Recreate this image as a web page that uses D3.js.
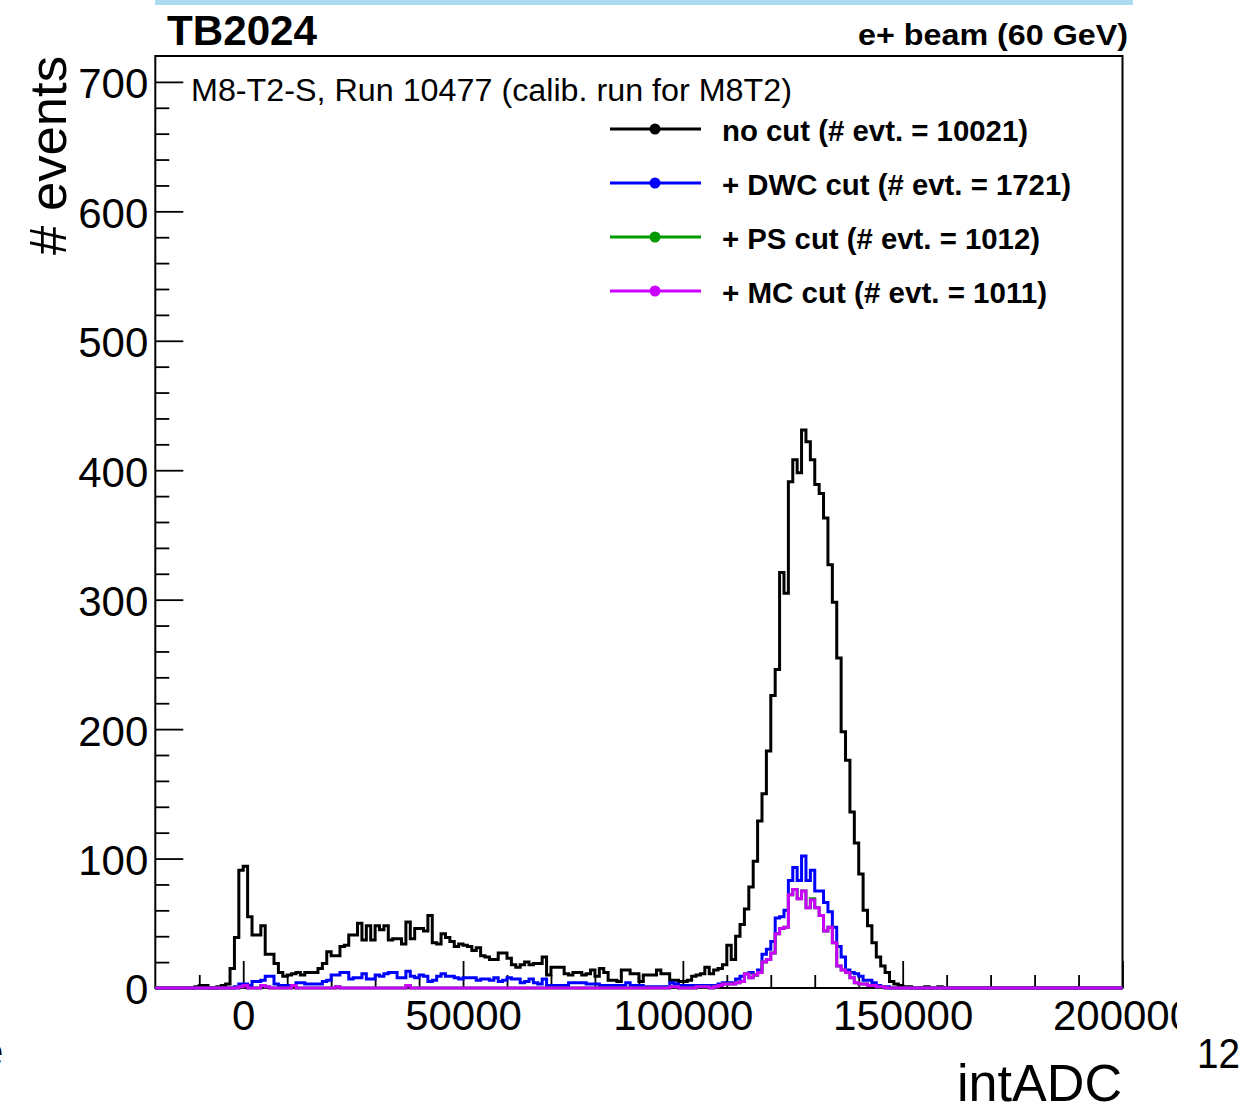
<!DOCTYPE html>
<html><head><meta charset="utf-8">
<script src="https://cdn.jsdelivr.net/npm/d3@7"></script>
<style>html,body{margin:0;padding:0;background:#fff;} svg{display:block;}</style>
</head><body>
<svg id="c" width="1255" height="1111"></svg>
<script>
// ---- histogram binning (intADC), 220 bins of 1000 from -20000 to 200000 ----
const binLow = -20000;
const binWidth = 1000;

// ---- series values (counts per bin) ----
const noCut = [
  0,0,0,0,0,0,0,0,0,1,
  2,2,0,0,1,2,3,15,39,91,
  94,55,41,41,48,26,26,19,12,9,
  10,11,12,10,12,12,12,15,19,28,
  25,25,32,33,41,41,50,37,48,37,
  48,45,48,37,38,38,34,51,38,46,
  46,44,56,35,34,42,39,36,32,34,
  33,32,29,31,25,24,22,22,27,27,
  23,18,16,18,20,18,19,19,24,10,
  16,16,16,11,10,12,12,10,11,14,
  9,15,12,6,6,5,14,14,11,11,
  5,10,10,10,14,11,11,6,6,5,
  5,6,9,10,11,16,11,14,15,18,
  33,22,40,49,61,78,98,129,150,183,
  226,246,321,305,391,408,398,431,422,408,
  389,382,363,327,298,255,198,176,136,112,
  88,60,48,35,24,17,12,5,3,2,
  1,1,0,0,0,1,0,0,1,0,
  0,0,0,0,0,0,0,0,0,0,
  0,0,0,0,0,0,0,0,0,0,
  0,0,0,0,0,0,0,0,0,0,
  0,0,0,0,0,0,0,0,0,0
];
const dwcCut = [
  0,0,0,0,0,0,0,0,0,0,
  0,0,0,0,0,0,0,0,1,3,
  3,2,5,5,6,9,9,3,2,2,
  2,2,4,4,3,3,3,3,5,6,
  10,10,12,12,7,8,8,11,7,7,
  10,9,11,12,12,8,8,13,9,8,
  10,9,5,6,9,11,9,9,8,7,
  8,8,8,6,7,7,6,8,5,6,
  8,7,7,4,5,7,4,3,7,2,
  2,2,2,2,4,4,4,4,3,3,
  3,2,2,2,2,2,2,4,2,2,
  2,1,1,1,1,1,1,4,3,2,
  2,2,2,2,2,2,2,2,3,4,
  4,4,7,9,11,12,10,14,26,30,
  36,54,55,60,83,93,83,102,83,91,
  75,75,66,59,47,32,24,14,12,11,
  9,6,6,4,2,1,1,0,0,0,
  0,0,0,0,0,0,0,0,0,0,
  0,0,0,0,0,0,0,0,0,0,
  0,0,0,0,0,0,0,0,0,0,
  0,0,0,0,0,0,0,0,0,0,
  0,0,0,0,0,0,0,0,0,0
];
const psCut = [
  0,0,0,0,0,0,0,0,0,0,
  0,0,0,0,0,0,0,0,0,1,
  2,0,0,0,2,1,0,0,0,0,
  0,2,0,0,0,0,0,0,0,0,
  0,1,0,0,0,0,0,0,0,0,
  0,0,0,0,0,0,0,2,0,0,
  0,0,0,0,0,0,0,0,0,0,
  0,0,0,0,0,0,0,0,0,0,
  0,0,0,0,0,0,0,0,0,0,
  0,0,0,0,0,0,0,0,0,0,
  0,0,0,0,0,0,0,0,0,0,
  0,0,0,0,0,0,0,1,1,0,
  0,0,0,1,1,1,0,1,2,3,
  3,3,4,5,11,8,10,12,20,22,
  27,42,46,47,72,76,69,75,62,69,
  62,56,44,47,35,17,14,12,8,4,
  3,3,2,2,1,1,0,0,0,0,
  0,0,0,0,0,0,0,0,0,0,
  0,0,0,0,0,0,0,0,0,0,
  0,0,0,0,0,0,0,0,0,0,
  0,0,0,0,0,0,0,0,0,0,
  0,0,0,0,0,0,0,0,0,0
];
const mcCut = [
  0,0,0,0,0,0,0,0,0,0,
  0,0,0,0,0,0,0,0,0,1,
  2,0,0,0,2,1,0,0,0,0,
  0,2,0,0,0,0,0,0,0,0,
  0,1,0,0,0,0,0,0,0,0,
  0,0,0,0,0,0,0,2,0,0,
  0,0,0,0,0,0,0,0,0,0,
  0,0,0,0,0,0,0,0,0,0,
  0,0,0,0,0,0,0,0,0,0,
  0,0,0,0,0,0,0,0,0,0,
  0,0,0,0,0,0,0,0,0,0,
  0,0,0,0,0,0,0,1,1,0,
  0,0,0,1,1,1,0,1,2,3,
  3,3,4,5,11,8,10,12,20,22,
  27,42,46,47,72,76,69,75,62,68,
  62,56,44,47,35,17,14,12,8,4,
  3,3,2,2,1,1,0,0,0,0,
  0,0,0,0,0,0,0,0,0,0,
  0,0,0,0,0,0,0,0,0,0,
  0,0,0,0,0,0,0,0,0,0,
  0,0,0,0,0,0,0,0,0,0,
  0,0,0,0,0,0,0,0,0,0
];

const seriesNames = ["no cut (# evt. = 10021)", "+ DWC cut (# evt. = 1721)", "+ PS cut (# evt. = 1012)", "+ MC cut (# evt. = 1011)"];
const seriesColors = ["#000000", "#0000ff", "#009a00", "#cc00ff"];
const seriesData = [noCut, dwcCut, psCut, mcCut];

const xTickValues = [0, 50000, 100000, 150000, 200000];
const yTickValues = [0, 100, 200, 300, 400, 500, 600, 700];
const xDomain = [-20000, 200000];
const yDomain = [0, 720];

const titleLeft = "TB2024";
const titleRight = "e+ beam (60 GeV)";
const runLabel = "M8-T2-S, Run 10477 (calib. run for M8T2)";
const xTitle = "intADC";
const yTitle = "# events";
const pageNumber = "12";

// ---- drawing ----
const FONT = "'Liberation Sans', Arial, Helvetica, sans-serif";
const svg = d3.select("#c");
const L = 155.3, R = 1122.5, T = 56, B = 988;
const x = d3.scaleLinear().domain(xDomain).range([L, R]);
const y = d3.scaleLinear().domain(yDomain).range([B, T]);

// top light-blue band
svg.append("rect").attr("x", 155).attr("y", 0).attr("width", 978).attr("height", 5).attr("fill", "#aadcf1");

const defs = svg.append("defs");
defs.append("clipPath").attr("id", "plotclip").append("rect")
  .attr("x", L - 1).attr("y", T).attr("width", R - L + 2).attr("height", B - T + 4);
defs.append("clipPath").attr("id", "padclip").append("rect")
  .attr("x", 0).attr("y", 0).attr("width", 1177).attr("height", 1111);

// frame
svg.append("rect").attr("x", L).attr("y", T).attr("width", R - L).attr("height", B - T)
  .attr("fill", "none").attr("stroke", "#000").attr("stroke-width", 2);

// axes
function styleAxis(g) {
  g.select(".domain").remove();
  g.selectAll(".tick line").attr("stroke", "#000").attr("stroke-width", 1.8);
  g.selectAll(".tick text").attr("font-family", FONT).attr("font-size", 42).attr("fill", "#000");
}
const xMinor = d3.range(-10000, 200000, 10000).filter(v => v % 50000 !== 0);
const yMinor = d3.range(20, 720, 20).filter(v => v % 100 !== 0);

const gxAll = svg.append("g").attr("clip-path", "url(#padclip)");
gxAll.append("g").attr("transform", `translate(0,${B})`)
  .call(d3.axisBottom(x).tickValues(xMinor).tickSizeInner(-13).tickSizeOuter(0).tickFormat(""))
  .call(styleAxis);
gxAll.append("g").attr("transform", `translate(0,${B})`)
  .call(d3.axisBottom(x).tickValues(xTickValues).tickSizeInner(-27).tickSizeOuter(0).tickPadding(12).tickFormat(d3.format("d")))
  .call(styleAxis);

svg.append("g").attr("transform", `translate(${L},0)`)
  .call(d3.axisLeft(y).tickValues(yMinor).tickSizeInner(-14).tickSizeOuter(0).tickFormat(""))
  .call(styleAxis);
svg.append("g").attr("transform", `translate(${L},0)`)
  .call(d3.axisLeft(y).tickValues(yTickValues).tickSizeInner(-28).tickSizeOuter(0).tickPadding(7).tickFormat(d3.format("d")))
  .call(styleAxis)
  .selectAll(".tick text").attr("dy", "0.38em");

// histograms
const line = d3.line().x(d => x(d[0])).y(d => y(d[1])).curve(d3.curveStepAfter);
const hg = svg.append("g").attr("clip-path", "url(#plotclip)");
seriesData.forEach((vals, k) => {
  const pts = vals.map((v, i) => [binLow + i * binWidth, v]);
  pts.push([binLow + vals.length * binWidth, vals[vals.length - 1]]);
  hg.append("path").attr("d", line(pts)).attr("fill", "none")
    .attr("stroke", seriesColors[k]).attr("stroke-width", 3)
    .attr("stroke-linejoin", "miter");
});

// legend
const legY = [129, 183, 237, 291];
const legLen = [306, 349, 318, 325];
seriesNames.forEach((name, k) => {
  const g = svg.append("g");
  g.append("line").attr("x1", 610).attr("x2", 701).attr("y1", legY[k]).attr("y2", legY[k])
    .attr("stroke", seriesColors[k]).attr("stroke-width", 3);
  g.append("circle").attr("cx", 655).attr("cy", legY[k]).attr("r", 5.5).attr("fill", seriesColors[k]);
  g.append("text").attr("x", 722).attr("y", legY[k] + 11.5).text(name)
    .attr("font-family", FONT).attr("font-weight", "bold").attr("font-size", 29)
    .attr("textLength", legLen[k]).attr("lengthAdjust", "spacingAndGlyphs");
});

// texts
svg.append("text").attr("x", 167).attr("y", 45).text(titleLeft)
  .attr("font-family", FONT).attr("font-weight", "bold").attr("font-size", 42)
  .attr("textLength", 150).attr("lengthAdjust", "spacingAndGlyphs");
svg.append("text").attr("x", 1128).attr("y", 45).attr("text-anchor", "end").text(titleRight)
  .attr("font-family", FONT).attr("font-weight", "bold").attr("font-size", 30)
  .attr("textLength", 270).attr("lengthAdjust", "spacingAndGlyphs");
svg.append("text").attr("x", 191).attr("y", 101).text(runLabel)
  .attr("font-family", FONT).attr("font-size", 31)
  .attr("textLength", 601).attr("lengthAdjust", "spacingAndGlyphs");
svg.append("text").attr("x", 1122).attr("y", 1101).attr("text-anchor", "end").text(xTitle)
  .attr("font-family", FONT).attr("font-size", 51)
  .attr("textLength", 165).attr("lengthAdjust", "spacingAndGlyphs");
svg.append("text").attr("transform", "translate(66,56) rotate(-90)").attr("text-anchor", "end").text(yTitle)
  .attr("font-family", FONT).attr("font-size", 52)
  .attr("textLength", 199).attr("lengthAdjust", "spacingAndGlyphs");
svg.append("text").attr("x", 1197).attr("y", 1068).text(pageNumber)
  .attr("font-family", FONT).attr("font-size", 42)
  .attr("textLength", 43).attr("lengthAdjust", "spacingAndGlyphs");
svg.append("text").attr("x", -20).attr("y", 1066).text("e")
  .attr("font-family", FONT).attr("font-size", 42);
</script>
</body></html>
